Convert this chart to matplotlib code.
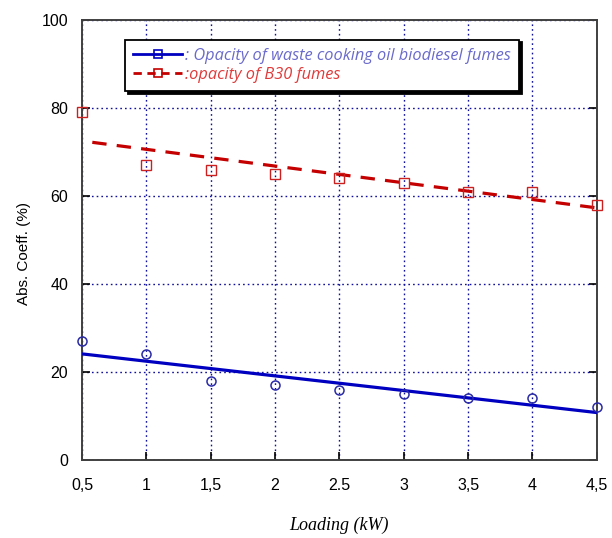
import numpy as np
import matplotlib
matplotlib.use("Agg")
import matplotlib.pyplot as plt

# data
load_kw = [0.5, 1.0, 1.5, 2.0, 2.5, 3.0, 3.5, 4.0, 4.5]
waste_oil = [27, 24, 18, 17, 16, 15, 14, 14, 12]
b30 = [79, 67, 66, 65, 64, 63, 61, 61, 58]
x_tick_labels = ["0,5", "1", "1,5", "2", "2.5", "3", "3,5", "4", "4,5"]
y_ticks = [0, 20, 40, 60, 80, 100]

label_waste = ": Opacity of waste cooking oil biodiesel fumes"
label_b30 = ":opacity of B30 fumes"

plt.rcParams["font.family"] = ["Liberation Sans", "DejaVu Sans"]

fig = plt.figure(figsize=(6.12, 5.38), dpi=100)
ax = fig.add_axes([0.134, 0.145, 0.841, 0.818])

x = np.array(load_kw)

# linear trend lines
p_w = np.polyfit(x, waste_oil, 1)
p_b = np.polyfit(x, b30, 1)
xw = np.array([0.5, 4.5])
xb = np.array([0.58, 4.5])

ax.plot(xw, np.polyval(p_w, xw), color="#0000c0", lw=2.3, zorder=3)
ax.plot(xb, np.polyval(p_b, xb), color="#c40000", lw=2.3, dashes=(4.5, 3.2), zorder=3)

ax.plot(x, waste_oil, ls="none", marker="o", ms=6.5, mfc="none", mec="#2a2aa8",
        mew=1.1, clip_on=False, zorder=4)
ax.plot(x, b30, ls="none", marker="s", ms=7.5, mfc="none", mec="#cc2020",
        mew=1.0, clip_on=False, zorder=4)

# legend handles (line + marker)
h1, = ax.plot([], [], color="#0000c0", lw=2.0, marker="s", ms=5.5, mfc="none",
              mec="#0000c0", mew=1.2)
h2, = ax.plot([], [], color="#c40000", lw=2.0, dashes=(3, 2), marker="s", ms=6,
              mfc="none", mec="#c40000", mew=1.2)
leg = ax.legend([h1, h2], [label_waste, label_b30], loc="upper left",
                bbox_to_anchor=(0.083, 0.955), borderaxespad=0,
                frameon=True, fancybox=False,
                shadow={"color": "black", "alpha": 1.0}, framealpha=1,
                edgecolor="black", handlelength=3.0, handletextpad=0.2,
                borderpad=0.5, labelspacing=0.2,
                prop={"style": "italic", "size": 11.8, "family": ["Open Sans", "DejaVu Sans"]})
leg.get_frame().set_linewidth(1.3)
texts = leg.get_texts()
texts[0].set_color("#6a6acc")
texts[1].set_color("#e03a3a")

ax.set_xlim(0.5, 4.5)
ax.set_ylim(0, 100)
ax.set_xticks(load_kw)
ax.set_xticklabels(x_tick_labels)
ax.set_yticks(y_ticks)
ax.tick_params(direction="in", length=6, width=1.2, labelsize=11.5, right=True,
               colors="black", pad=13)
ax.tick_params(axis="y", pad=10)

ax.grid(True, ls=(0, (1.2, 2.2)), color="#10109a", lw=1.0)
for s in ax.spines.values():
    s.set_linewidth(1.4)
    s.set_color("#404040")

ax.set_ylabel("Abs. Coeff. (%)", fontsize=11)
ax.yaxis.set_label_coords(-0.1, 0.47)
ax.set_xlabel("Loading (kW)", fontsize=13, family=["Liberation Serif"],
              style="italic", labelpad=17)

fig.savefig("out.png", dpi=100)
